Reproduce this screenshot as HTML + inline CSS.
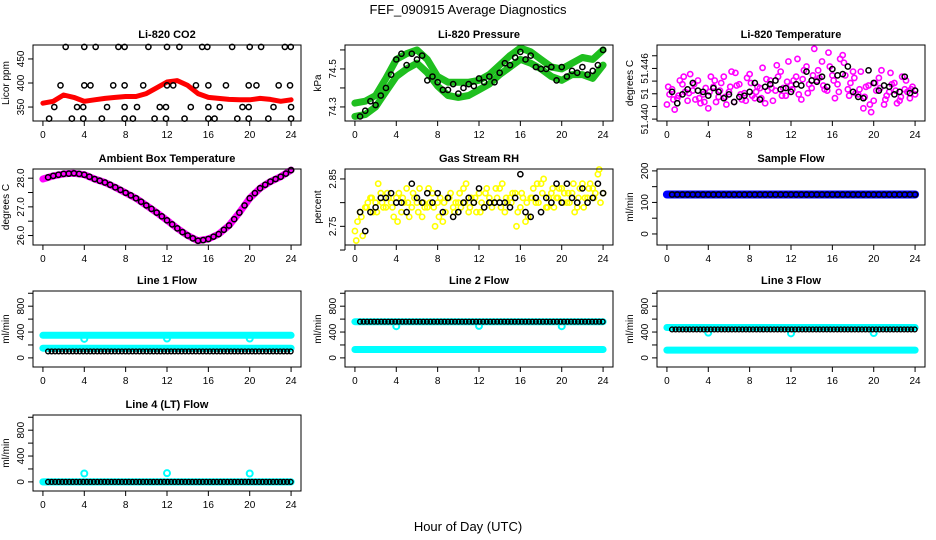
<!DOCTYPE html>
<html><head><meta charset="utf-8"><style>
body{margin:0;background:#fff;}
svg{display:block;font-family:"Liberation Sans",sans-serif;}
</style></head><body>
<svg id="chart" width="936" height="540" viewBox="0 0 936 540" xmlns="http://www.w3.org/2000/svg">
<rect width="936" height="540" fill="#fff"/>
<text x="468" y="14" text-anchor="middle" font-size="13">FEF_090915  Average Diagnostics</text>
<text x="468" y="531" text-anchor="middle" font-size="13">Hour of Day (UTC)</text>
</svg>
<script>
// ---- data ----
const bandHours = [0,1,2,3,4,5,6,7,8,9,10,11,12,13,14,15,16,17,18,19,20,21,22,23,24];
const co2Band = [358,362,375,370,362,365,368,370,372,372,378,390,402,405,395,378,370,368,366,365,365,368,366,362,365];
const co2HoursA = [2.2,4.0,5.1,7.3,7.9,10.2,12.0,13.2,15.4,15.9,18.3,20.0,21.1,23.4,23.97];
const co2HoursB = [1.7,4.0,4.6,6.8,7.9,9.7,12.0,12.6,14.8,16.0,17.7,19.9,20.65,22.8,23.9];
const co2HoursC = [1.1,3.3,3.9,6.2,7.9,9.1,11.3,11.9,14.3,16.0,17.1,19.3,19.9,22.3,24.0];
const co2HoursD = [0.6,2.8,3.9,5.7,7.9,8.7,10.8,11.9,13.7,16.0,16.6,18.8,19.9,21.8,24.0];
const co2Levels = [475,395,350,326];
const presUpper = [74.32,74.33,74.36,74.45,74.55,74.58,74.60,74.55,74.46,74.43,74.43,74.43,74.44,74.47,74.52,74.57,74.61,74.59,74.55,74.51,74.50,74.53,74.56,74.55,74.60];
const presLower = [74.25,74.26,74.30,74.38,74.46,74.50,74.53,74.48,74.41,74.36,74.35,74.36,74.39,74.42,74.47,74.51,74.55,74.53,74.50,74.46,74.44,74.47,74.47,74.45,74.52];
const presBlack = [74.25,74.28,74.33,74.31,74.36,74.40,74.47,74.55,74.58,74.52,74.58,74.55,74.57,74.44,74.46,74.43,74.39,74.39,74.42,74.37,74.40,74.42,74.41,74.45,74.43,74.46,74.43,74.48,74.53,74.52,74.56,74.59,74.55,74.57,74.51,74.50,74.50,74.51,74.44,74.51,74.46,74.49,74.48,74.51,74.47,74.49,74.52,74.60];
const magA = [51.4423,51.4447,51.4433,51.4455,51.4429,51.4445,51.4461,51.4439,51.4417,51.4451,51.4435,51.4467,51.4443,51.4427,51.4455,51.4441,51.4471,51.4433,51.4449,51.4425,51.4461,51.4445,51.4475,51.4437,51.4453,51.4467,51.4431,51.4483,51.4449,51.4461,51.4491,51.4445,51.4469,51.4455,51.4501,51.4447,51.4475,51.4439,51.4417,51.4453,51.4429,51.4465,51.4423,51.4443,51.4457,51.4429,51.4447,51.4433,51.4439];
const magB = [51.4439,51.4415,51.4461,51.4443,51.4471,51.4431,51.4425,51.4449,51.4467,51.4427,51.4457,51.4423,51.4475,51.4453,51.4431,51.4465,51.4437,51.4451,51.4481,51.4445,51.4429,51.4467,51.4449,51.4491,51.4461,51.4439,51.4477,51.4455,51.4511,51.4465,51.4447,51.4483,51.4433,51.4495,51.4469,51.4457,51.4441,51.4475,51.4451,51.4411,51.4445,51.4477,51.4437,51.4455,51.4425,51.4467,51.4443,51.4451];
const magC = [51.4451,51.4431,51.4437,51.4467,51.4441,51.4455,51.4433,51.4427,51.4443,51.4461,51.4445,51.4435,51.4451,51.4473,51.4439,51.4429,51.4457,51.4443,51.4433,51.4463,51.4449,51.4485,51.4437,51.4459,51.4447,51.4495,51.4463,51.4441,51.4469,51.4477,51.4453,51.4505,51.4461,51.4443,51.4489,51.4437,51.4465,51.4447,51.4435,51.4423,51.4457,51.4449,51.4431,51.4473,51.4445,51.4435,51.4461,51.4447];
const tempBlack = [51.4443,51.4425,51.4439,51.4447,51.4457,51.4445,51.4443,51.4437,51.4449,51.4443,51.4433,51.4439,51.4427,51.4435,51.4437,51.4443,51.4457,51.4431,51.4451,51.4455,51.4461,51.4447,51.4449,51.4443,51.4455,51.4453,51.4475,51.4461,51.4459,51.4467,51.4451,51.4479,51.4469,51.4471,51.4483,51.4443,51.4435,51.4433,51.4477,51.4457,51.4445,51.4453,51.4451,51.4439,51.4443,51.4467,51.4441,51.4445];
const ambBand = [27.97,28.08,28.15,28.17,28.12,27.97,27.85,27.68,27.49,27.3,27.05,26.8,26.53,26.25,26.0,25.82,25.88,26.05,26.35,26.8,27.3,27.65,27.88,28.05,28.28];
const ambBlack = [28.03,28.08,28.12,28.15,28.16,28.17,28.15,28.12,28.05,27.97,27.91,27.85,27.77,27.68,27.59,27.49,27.40,27.30,27.18,27.05,26.93,26.80,26.67,26.53,26.39,26.25,26.12,26.00,25.90,25.82,25.84,25.88,25.96,26.05,26.20,26.35,26.57,26.80,27.05,27.30,27.48,27.65,27.77,27.88,27.97,28.05,28.16,28.28];
const yelA = [2.74,2.78,2.79,2.81,2.80,2.82,2.79,2.80,2.81,2.78,2.83,2.79,2.80,2.77,2.79,2.82,2.80,2.76,2.81,2.79,2.80,2.83,2.78,2.80,2.82,2.79,2.81,2.80,2.83,2.78,2.81,2.82,2.79,2.76,2.81,2.80,2.84,2.79,2.82,2.81,2.83,2.80,2.82,2.79,2.84,2.81,2.83,2.86,2.82];
const yelB = [2.76,2.73,2.80,2.78,2.84,2.79,2.81,2.77,2.82,2.80,2.77,2.81,2.83,2.79,2.80,2.75,2.81,2.78,2.82,2.80,2.79,2.84,2.81,2.78,2.80,2.83,2.79,2.81,2.84,2.80,2.82,2.78,2.81,2.77,2.83,2.80,2.85,2.81,2.79,2.83,2.82,2.80,2.78,2.83,2.81,2.84,2.82,2.80];
const yelC = [2.72,2.77,2.79,2.81,2.78,2.80,2.82,2.79,2.76,2.81,2.80,2.82,2.78,2.80,2.83,2.79,2.77,2.80,2.81,2.78,2.82,2.80,2.79,2.81,2.78,2.82,2.80,2.83,2.79,2.81,2.80,2.75,2.82,2.80,2.81,2.84,2.82,2.79,2.83,2.81,2.80,2.82,2.84,2.81,2.79,2.83,2.81,2.87];
const rhBlack = [2.78,2.74,2.78,2.79,2.81,2.81,2.82,2.80,2.80,2.78,2.84,2.81,2.80,2.82,2.80,2.82,2.78,2.81,2.77,2.78,2.80,2.81,2.80,2.83,2.79,2.80,2.80,2.80,2.80,2.79,2.81,2.86,2.78,2.77,2.81,2.78,2.81,2.80,2.84,2.80,2.84,2.81,2.80,2.83,2.80,2.81,2.84,2.82];
const sampleLevel = [125, 125];
const line1Levels = [350, 150, 100];
const line2Levels = [560, 130, 560];
const line3Levels = [470, 120, 440];
const line4Levels = [0, 0, 0];
const dipHours = [4, 12, 20];
const line1Dips = [295, 300, 300];
const line2Dips = [490, 495, 490];
const line3Dips = [390, 380, 385];
const line4Dips = [130, 135, 130];
const xTicks = [0,4,8,12,16,20,24];

// ---- helpers ----
const svg = document.getElementById('chart');
const NS = 'http://www.w3.org/2000/svg';
const colX = [33, 345, 657];
const rowY = [45, 169, 291, 415];
const BW = 268, BH = 76;
function mk(tag, attrs, parent){
  const e = document.createElementNS(NS, tag);
  for (const k in attrs) e.setAttribute(k, attrs[k]);
  (parent || svg).appendChild(e);
  return e;
}
function makePanel(col, row, title, ytitle, ymin, ymax, yticks, ylabels, name){
  const g = mk('g', {});
  
  
  const L = colX[col], T = rowY[row];
  const xs = h => L + (h + 0.96) / 25.92 * BW;
  const ys = v => T + BH - (v - ymin) / (ymax - ymin) * BH;
  const t = mk('text', {x: L + BW/2, y: T - 7, 'text-anchor':'middle', 'font-size':11, 'font-weight':'bold'}, g);
  t.textContent = title;
  
  
  const yt = mk('text', {x: 0, y: 0, 'text-anchor':'middle', 'font-size':10, transform:`translate(${L-24},${T+BH/2}) rotate(-90)`}, g);
  yt.textContent = ytitle;
  
  
  const marks = mk('g', {}, g);
  
  
  const ax = mk('g', {}, g);
  
  
  mk('line', {x1: xs(0), x2: xs(24), y1: T+BH, y2: T+BH, stroke:'#000'}, ax);
  xTicks.forEach(h => {
    mk('line', {x1: xs(h), x2: xs(h), y1: T+BH, y2: T+BH+5, stroke:'#000'}, ax);
    const lb = mk('text', {x: xs(h), y: T+BH+17, 'text-anchor':'middle', 'font-size':10}, ax);
    lb.textContent = h;
    
    
  });
  mk('line', {x1: L, x2: L, y1: ys(yticks[0]), y2: ys(yticks[yticks.length-1]), stroke:'#000'}, ax);
  yticks.forEach((v, i) => {
    mk('line', {x1: L-5, x2: L, y1: ys(v), y2: ys(v), stroke:'#000'}, ax);
    if (ylabels[i] !== '') {
      const lb = mk('text', {x: 0, y: 0, 'text-anchor':'middle', 'font-size':10, transform:`translate(${L-9},${ys(v)}) rotate(-90)`}, ax);
      lb.textContent = ylabels[i];
      
      
    }
  });
  const box = mk('rect', {x: L, y: T, width: BW, height: BH, fill:'none', stroke:'#000'}, g);
  
  
  return {xs, ys, marks};
}
function band(p, hours, vals, color, w, nm){
  const d = hours.map((h,i) => (i?'L':'M') + p.xs(h).toFixed(1) + ',' + p.ys(vals[i]).toFixed(1)).join('');
  const e = mk('path', {d, fill:'none', stroke: color, 'stroke-width': w, 'stroke-linejoin':'round', 'stroke-linecap':'round'}, p.marks);
  
  
}
function pts(p, hours, vals, color, nm, r, sw){
  vals.forEach((v, i) => {
    const c = mk('circle', {cx: p.xs(hours[i]), cy: p.ys(v), r: r || 2.6, fill:'none', stroke: color, 'stroke-width': sw || 1.5}, p.marks);
    
    
  });
}
const halfHours = ambBlack.map((_, i) => 0.5 + i * 0.5);
const gridA = magA.map((_, i) => i * 0.5);
const gridB = magB.map((_, i) => 0.25 + i * 0.5);
const gridC = magC.map((_, i) => 0.125 + i * 0.5);
const flowHours = []; for (let h = 0.5; h <= 24.01; h += 0.34) flowHours.push(h);

// CO2
let p = makePanel(0,0,'Li-820 CO2','Licor ppm',321,479,[350,400,450],['350','400','450'],'co2');
band(p, bandHours, co2Band, '#f00', 5, 'co2-band');
[co2HoursA,co2HoursB,co2HoursC,co2HoursD].forEach((hs, k) => pts(p, hs, hs.map(() => co2Levels[k]), '#000', 'co2-point'));
// Pressure
p = makePanel(1,0,'Li-820 Pressure','kPa',74.226,74.626,[74.3,74.4,74.5,74.6],['74.3','','74.5',''],'pressure');
band(p, bandHours, presUpper, '#1fbf1f', 7, 'pressure-upper-band');
band(p, bandHours, presLower, '#1fbf1f', 7, 'pressure-lower-band');
pts(p, halfHours, presBlack, '#000', 'pressure-point');
// Li-820 temperature
p = makePanel(2,0,'Li-820 Temperature','degrees C',51.4397,51.4517,[51.440,51.442,51.444,51.446,51.448,51.450],['51.440','','51','','51.446',''],'li820-temp');
pts(p, gridA, magA, '#f0f', 'li820-temp-point', 2.6, 1.6);
pts(p, gridB, magB, '#f0f', 'li820-temp-point', 2.6, 1.6);
pts(p, gridC, magC, '#f0f', 'li820-temp-point', 2.6, 1.6);
pts(p, halfHours, tempBlack, '#000', 'li820-temp-avg-point');
// Ambient
p = makePanel(0,1,'Ambient Box Temperature','degrees C',25.67,28.32,[26,26.5,27,27.5,28],['26.0','','27.0','','28.0'],'ambient');
band(p, bandHours, ambBand, '#f0f', 7, 'ambient-band');
pts(p, halfHours, ambBlack, '#000', 'ambient-point');
// RH
p = makePanel(1,1,'Gas Stream RH','percent',2.7106,2.871,[2.70,2.75,2.80,2.85],['','2.75','','2.85'],'rh');
pts(p, gridA, yelA, '#ff0', 'rh-point', 2.6, 1.6);
pts(p, gridB, yelB, '#ff0', 'rh-point', 2.6, 1.6);
pts(p, gridC, yelC, '#ff0', 'rh-point', 2.6, 1.6);
pts(p, halfHours, rhBlack, '#000', 'rh-avg-point');
// Sample flow
p = makePanel(2,1,'Sample Flow','ml/min',-35,206,[0,50,100,150,200],['0','','100','','200'],'sample-flow');
band(p, [0,24], sampleLevel, '#00f', 8, 'sample-flow-band');
pts(p, halfHours, halfHours.map(() => sampleLevel[0]), '#000', 'sample-flow-point');
// Line flows
const flowTicks = [0,200,400,600,800,1000], flowLabels = ['0','','400','','800',''];
function flowPanel(col,row,title,levels,dips,nm){
  const q = makePanel(col,row,title,'ml/min',-141,1035,flowTicks,flowLabels,nm);
  band(q, [0,24], [levels[0],levels[0]], '#0ff', 7, nm+'-band-a');
  band(q, [0,24], [levels[1],levels[1]], '#0ff', 7, nm+'-band-b');
  pts(q, dipHours, dips, '#0ff', nm+'-cyan-point', 3, 2);
  pts(q, flowHours, flowHours.map(() => levels[2]), '#000', nm+'-avg-point', 2.4, 1.4);
}
flowPanel(0,2,'Line 1 Flow',line1Levels,line1Dips,'line1-flow');
flowPanel(1,2,'Line 2 Flow',line2Levels,line2Dips,'line2-flow');
flowPanel(2,2,'Line 3 Flow',line3Levels,line3Dips,'line3-flow');
flowPanel(0,3,'Line 4 (LT) Flow',line4Levels,line4Dips,'line4-flow');
</script>
</body></html>
